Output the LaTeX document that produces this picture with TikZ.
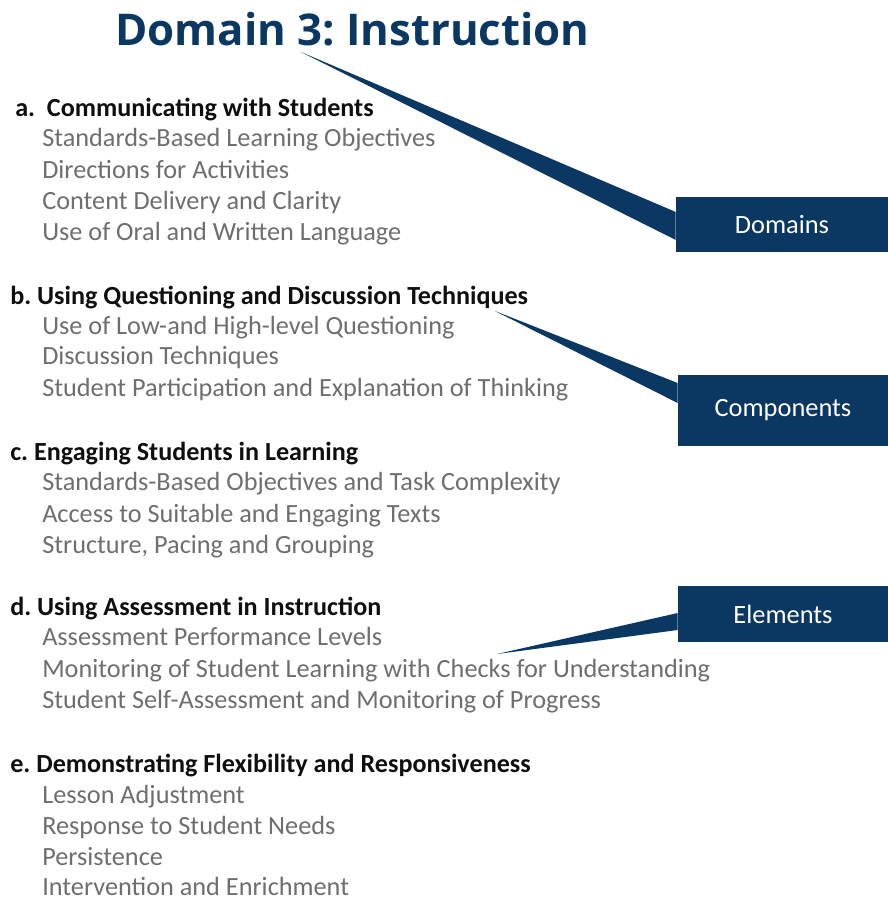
\documentclass[tikz,border=0pt]{standalone}
\usepackage{fontspec}
\setmainfont{Carlito}
\newfontfamily\titlefont{Open Sans}
\usetikzlibrary{positioning}
\frenchspacing
\definecolor{navy}{RGB}{11,56,99}
\definecolor{itemgray}{RGB}{110,110,110}
\definecolor{headblack}{RGB}{15,15,15}
\tikzset{
  head/.style={anchor=base west,inner sep=0pt,font=\fontsize{19.6}{22}\selectfont\bfseries,text=headblack},
  item/.style={anchor=base west,inner sep=0pt,font=\fontsize{19.7}{22}\selectfont,text=itemgray},
  tag/.style={fill=navy,text=white,inner sep=0pt,font=\fontsize{19.8}{22}\selectfont},
}
\begin{document}
\begin{tikzpicture}[x=0.75pt,y=-0.75pt]
\useasboundingbox (0,0) rectangle (888,901);
\node(title) at (115,45) [anchor=base west,inner sep=0pt,text=navy,font=\titlefont\fontsize{32.8}{36}\selectfont\bfseries]{Domain 3: Instruction};

\node(ha) at (15,116) [head]{a.\ \ Communicating with Students};
\node(a1) at (42,146) [item]{Standards-Based Learning Objectives};
\node(a2) at (42,178) [item]{Directions for Activities};
\node(a3) at (42,209) [item]{Content Delivery and Clarity};
\node(a4) at (42,240) [item]{Use of Oral and Written Language};

\node(hb) at (10,304) [head]{b. Using Questioning and Discussion Techniques};
\node(b1) at (42,334) [item]{Use of Low-and High-level Questioning};
\node(b2) at (42,364) [item]{Discussion Techniques};
\node(b3) at (42,396) [item]{Student Participation and Explanation of Thinking};

\node(hc) at (10,460) [head]{c. Engaging Students in Learning};
\node(c1) at (42,490) [item]{Standards-Based Objectives and Task Complexity};
\node(c2) at (42,522) [item]{Access to Suitable and Engaging Texts};
\node(c3) at (42,553) [item]{Structure, Pacing and Grouping};

\node(hd) at (10,615) [head]{d. Using Assessment in Instruction};
\node(d1) at (42,645) [item]{Assessment Performance Levels};
\node(d2) at (42,677) [item]{Monitoring of Student Learning with Checks for Understanding};
\node(d3) at (42,708) [item]{Student Self-Assessment and Monitoring of Progress};

\node(he) at (10,772) [head]{e. Demonstrating Flexibility and Responsiveness};
\node(e1) at (42,803) [item]{Lesson Adjustment};
\node(e2) at (42,834) [item]{Response to Student Needs};
\node(e3) at (42,865) [item]{Persistence};
\node(e4) at (42,895) [item]{Intervention and Enrichment};

% callout boxes
\node(domains) at (782,224.5) [tag,minimum width=159pt,minimum height=41.25pt]{Domains};
\node(components) at (783,410.5) [tag,minimum width=157.5pt,minimum height=53.25pt]{Components};
\node(elements) at (783,614) [tag,minimum width=157.5pt,minimum height=42pt]{Elements};

% tails
\coordinate(tipD) at (301,52);
\coordinate(tipC) at (495,311);
\coordinate(tipE) at (497,654);
\fill[navy] (tipD) -- ([yshift=9.4pt]domains.west) -- ([yshift=-11.6pt]domains.west) -- cycle;
\fill[navy] (tipC) -- ([yshift=20.6pt]components.west) -- ([yshift=5.6pt]components.west) -- cycle;
\fill[navy] (tipE) -- ([yshift=0.75pt]elements.west) -- ([yshift=-12pt]elements.west) -- cycle;

\end{tikzpicture}
\end{document}
